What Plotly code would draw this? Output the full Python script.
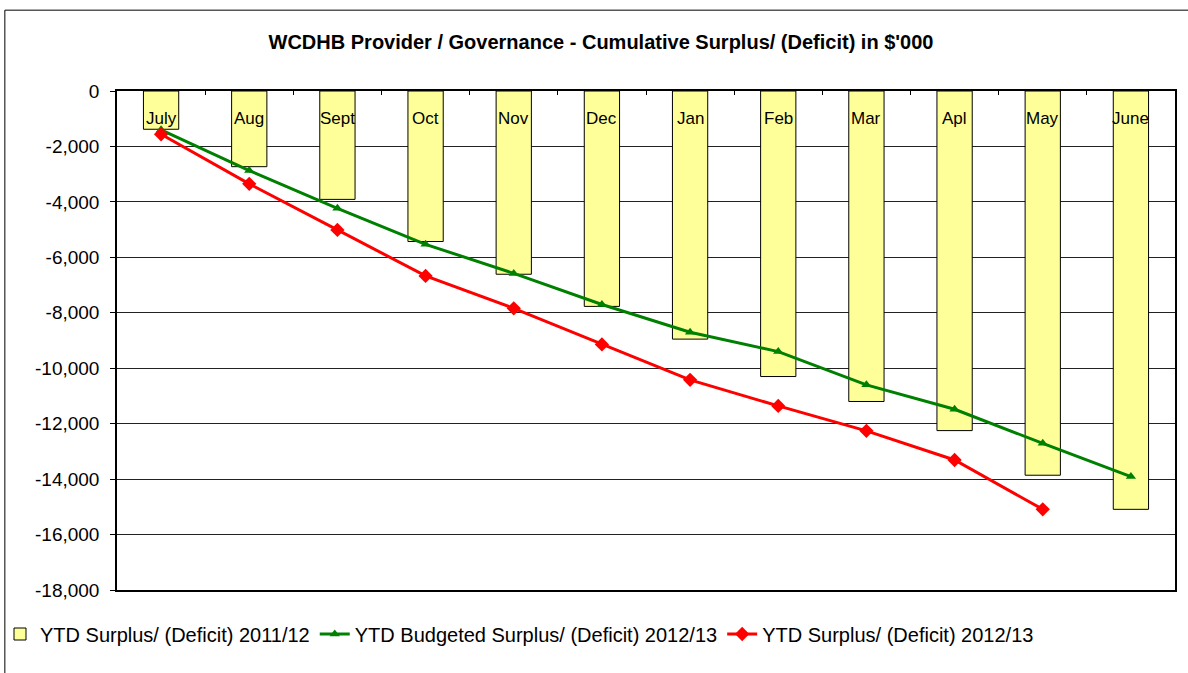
import plotly.graph_objects as go

months = ["July", "Aug", "Sept", "Oct", "Nov", "Dec", "Jan", "Feb", "Mar", "Apl", "May", "June"]
ytd_2011_12 = [-1380, -2730, -3910, -5430, -6610, -7770, -8950, -10300, -11200, -12250, -13860, -15090]
budget_2012_13 = [-1400, -2870, -4230, -5530, -6580, -7700, -8700, -9400, -10600, -11480, -12710, -13910]
actual_2012_13 = [-1560, -3350, -5010, -6670, -7840, -9140, -10420, -11360, -12260, -13310, -15090, None]

title = "WCDHB Provider / Governance - Cumulative Surplus/ (Deficit) in $'000"
yticks = list(range(0, -18001, -2000))
yticktext = [f"{v:,}" for v in yticks]

FONT = "Liberation Sans, Arial, sans-serif"

fig = go.Figure()
fig.add_trace(go.Bar(
    x=months, y=ytd_2011_12, name="YTD Surplus/ (Deficit) 2011/12",
    marker=dict(color="#FFFF99", line=dict(color="black", width=1)),
    width=0.4,
))
fig.add_trace(go.Scatter(
    x=months, y=budget_2012_13, name="YTD Budgeted Surplus/ (Deficit) 2012/13",
    mode="lines+markers", line=dict(color="#008000", width=3),
    marker=dict(symbol="triangle-up", size=9, color="#008000"),
))
fig.add_trace(go.Scatter(
    x=months, y=actual_2012_13, name="YTD Surplus/ (Deficit) 2012/13",
    mode="lines+markers", line=dict(color="#FF0000", width=3),
    marker=dict(symbol="diamond", size=11, color="#FF0000"),
))

annotations = [
    dict(x=m, y=0, xref="x", yref="y", text=m, showarrow=False,
         yanchor="middle", yshift=-27, font=dict(family=FONT, size=17, color="black"))
    for m in months
]

fig.update_layout(
    width=1188, height=673,
    margin=dict(l=117, r=13, t=91, b=83, autoexpand=False),
    paper_bgcolor="white", plot_bgcolor="white",
    font=dict(family=FONT, size=14, color="black"),
    title=dict(text="<b>" + title + "</b>", xref="container", yref="container",
               x=601 / 1188, y=1 - 42 / 673, xanchor="center", yanchor="middle",
               font=dict(family=FONT, size=20, color="black")),
    showlegend=True,
    legend=dict(orientation="h", xref="container", yref="container",
                x=0, y=1 - 634 / 673, xanchor="left", yanchor="middle",
                font=dict(family=FONT, size=20, color="black"), itemwidth=30,
                bgcolor="rgba(0,0,0,0)",
                tracegroupgap=0, traceorder="normal"),
    bargap=0.6,
    annotations=annotations,
    shapes=[dict(type="rect", xref="paper", yref="paper", x0=-0.106, x1=1.3, y0=-0.3, y1=1.162,
                 line=dict(color="black", width=1), layer="below")],
)
fig.update_xaxes(
    side="top", showline=True, linecolor="black", linewidth=2, mirror=True,
    ticks="inside", tickson="boundaries", ticklen=4, tickcolor="black",
    showticklabels=False, showgrid=False, range=[-0.5, 11.5], automargin=False,
)
fig.update_yaxes(
    range=[-18000, 0], tickvals=yticks, ticktext=yticktext,
    showline=True, linecolor="black", linewidth=1.5, mirror=True,
    ticks="outside", ticklen=5, tickcolor="black", ticklabelstandoff=7,
    showgrid=True, gridcolor="#222222", gridwidth=1, zeroline=False,
    tickfont=dict(family=FONT, size=19, color="black"), automargin=False,
)

fig.write_html("out.html", config={"displayModeBar": False},
               post_script="document.body.style.margin='0px';")
